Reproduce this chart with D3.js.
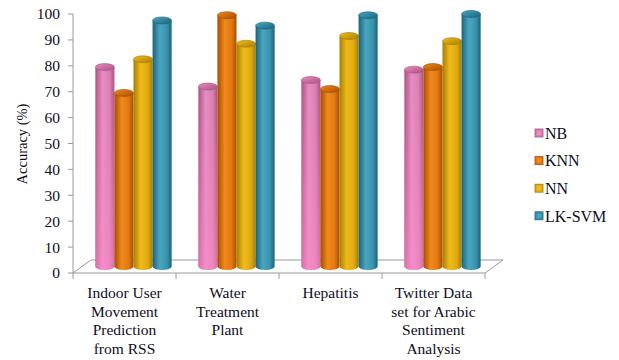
<!DOCTYPE html>
<html>
<head>
<meta charset="utf-8">
<script src="https://cdnjs.cloudflare.com/ajax/libs/d3/7.8.5/d3.min.js"></script>
<style>
  html, body { margin: 0; padding: 0; background: #fff; }
  svg { display: block; }
  text { font-family: "Liberation Serif", "Times New Roman", serif; fill: #0e0e1c; }
</style>
</head>
<body>
<svg id="chart" width="619" height="360"></svg>
<script>
// Datasets on the x axis (each label broken into lines)
const categories = [
  ["Indoor User", "Movement", "Prediction", "from RSS"],
  ["Water", "Treatment", "Plant"],
  ["Hepatitis"],
  ["Twitter Data", "set for Arabic", "Sentiment", "Analysis"]
];
const seriesNames = ["NB", "KNN", "NN", "LK-SVM"];
// Accuracy (%) per classifier, one entry per dataset
const nbValues    = [77, 69.5, 72, 76];
const knnValues   = [67, 97, 68.5, 77];
const nnValues    = [80, 86, 89, 87];
const lksvmValues = [95, 93, 97, 97.5];
const yTicks = [0, 10, 20, 30, 40, 50, 60, 70, 80, 90, 100];

const seriesValues = [nbValues, knnValues, nnValues, lksvmValues];
const palette = [
  { dark: "#a9527f", light: "#e88cc4", cap: "#d97fb0" },
  { dark: "#a84d00", light: "#f08a1c", cap: "#e27812" },
  { dark: "#a87e00", light: "#f0bc1c", cap: "#e0aa10" },
  { dark: "#1b6479", light: "#4aa6c0", cap: "#3a93ad" }
];

const svg = d3.select("#chart");
const defs = svg.append("defs");

// Layout of the 3D plot box
const plotLeft = 73, plotRight = 485, plotBottom = 273, plotTop = 14;
const depthX = 18, depthY = -13;

const x = d3.scaleBand().domain(d3.range(categories.length)).range([plotLeft, plotRight]).padding(0);
const y = d3.scaleLinear().domain([0, 100]).range([plotBottom, plotTop]);
const inner = d3.scaleBand().domain(d3.range(seriesNames.length))
  .range([0, x.bandwidth()]).paddingOuter(0.7).paddingInner(0);

// Cylinder gradients
palette.forEach((c, i) => {
  const g = defs.append("linearGradient").attr("id", "body" + i)
    .attr("x1", "0").attr("x2", "1").attr("y1", "0").attr("y2", "0");
  g.append("stop").attr("offset", "0").attr("stop-color", c.dark);
  g.append("stop").attr("offset", "0.38").attr("stop-color", c.light);
  g.append("stop").attr("offset", "0.75").attr("stop-color", c.cap);
  g.append("stop").attr("offset", "1").attr("stop-color", c.dark);
  const t = defs.append("linearGradient").attr("id", "cap" + i)
    .attr("x1", "0").attr("x2", "1").attr("y1", "0").attr("y2", "1");
  t.append("stop").attr("offset", "0").attr("stop-color", c.light);
  t.append("stop").attr("offset", "1").attr("stop-color", c.dark);
});
// NB fades to a brighter pink near the floor
const fade = defs.append("linearGradient").attr("id", "nbFade")
  .attr("x1", "0").attr("x2", "0").attr("y1", "0").attr("y2", "1");
fade.append("stop").attr("offset", "0").attr("stop-color", "#ff8ccc").attr("stop-opacity", 0);
fade.append("stop").attr("offset", "1").attr("stop-color", "#ff8ccc").attr("stop-opacity", 0.55);

const gridColor = "#9a9a9a";

// Floor of the 3D box
svg.append("path")
  .attr("d", `M${plotLeft},${plotBottom}L${plotRight},${plotBottom}L${plotRight + depthX},${plotBottom + depthY}L${plotLeft + depthX},${plotBottom + depthY}Z`)
  .attr("fill", "#fff").attr("stroke", gridColor).attr("stroke-width", 1);

// Value axis
const yAxis = svg.append("g");
yAxis.append("line")
  .attr("x1", plotLeft).attr("x2", plotLeft).attr("y1", y(100)).attr("y2", y(0))
  .attr("stroke", gridColor);
yAxis.selectAll(".tick").data(yTicks).join("line")
  .attr("x1", plotLeft - 5).attr("x2", plotLeft).attr("y1", d => y(d)).attr("y2", d => y(d))
  .attr("stroke", gridColor);
yAxis.selectAll("text").data(yTicks).join("text")
  .attr("x", 60).attr("y", d => y(d)).attr("dy", "0.35em")
  .attr("text-anchor", "end").attr("font-size", 15.5).text(d => d);

svg.append("text")
  .attr("transform", `translate(27,${144}) rotate(-90)`)
  .attr("text-anchor", "middle").attr("font-size", 14.5)
  .text("Accuracy (%)");

// Category axis ticks and labels
const catTicks = d3.range(categories.length + 1).map(i => plotLeft + i * x.bandwidth());
svg.selectAll(".ctick").data(catTicks).join("line")
  .attr("x1", d => d).attr("x2", d => d).attr("y1", plotBottom).attr("y2", plotBottom + 6)
  .attr("stroke", gridColor);
const catLabels = svg.selectAll(".clabel").data(categories).join("text")
  .attr("text-anchor", "middle").attr("font-size", 15.5);
catLabels.each(function(lines, i) {
  const t = d3.select(this);
  lines.forEach((ln, j) => {
    t.append("tspan").attr("x", x(i) + x.bandwidth() / 2)
      .attr("y", 298 + j * 18.5).text(ln);
  });
});

// Cylinders, placed at mid depth of the box
const ry = 3.5;
const midX = depthX / 2, midY = depthY / 2;
const bars = [];
categories.forEach((c, ci) => {
  seriesValues.forEach((vals, si) => {
    bars.push({ ci, si, v: vals[ci] });
  });
});
const barG = svg.append("g");
bars.forEach(b => {
  const w = inner.bandwidth();
  const cx = x(b.ci) + inner(b.si) + w / 2 + midX;
  const yb = y(0) + midY;
  const yt = y(b.v) + midY;
  const rx = w / 2;
  const g = barG.append("g");
  const body = `M${cx - rx},${yt}L${cx - rx},${yb}A${rx},${ry} 0 0 0 ${cx + rx},${yb}L${cx + rx},${yt}Z`;
  g.append("path").attr("d", body).attr("fill", `url(#body${b.si})`);
  if (b.si === 0) {
    g.append("path").attr("d", body).attr("fill", "url(#nbFade)");
  }
  // top cap
  g.append("ellipse")
    .attr("cx", cx).attr("cy", yt).attr("rx", rx).attr("ry", ry)
    .attr("fill", `url(#cap${b.si})`)
    .attr("stroke", palette[b.si].dark).attr("stroke-width", 0.6);
});

// Legend
const legend = svg.append("g");
seriesNames.forEach((name, i) => {
  const ly = 133 + i * 27.6;
  legend.append("rect")
    .attr("x", 535).attr("y", ly - 4).attr("width", 8).attr("height", 8)
    .attr("fill", palette[i].cap).attr("stroke", palette[i].dark).attr("stroke-width", 0.8);
  legend.append("rect")
    .attr("x", 537).attr("y", ly - 2).attr("width", 4).attr("height", 4)
    .attr("fill", palette[i].light);
  legend.append("text")
    .attr("x", 545).attr("y", ly).attr("dy", "0.36em")
    .attr("font-size", 16).text(name);
});
</script>
</body>
</html>
